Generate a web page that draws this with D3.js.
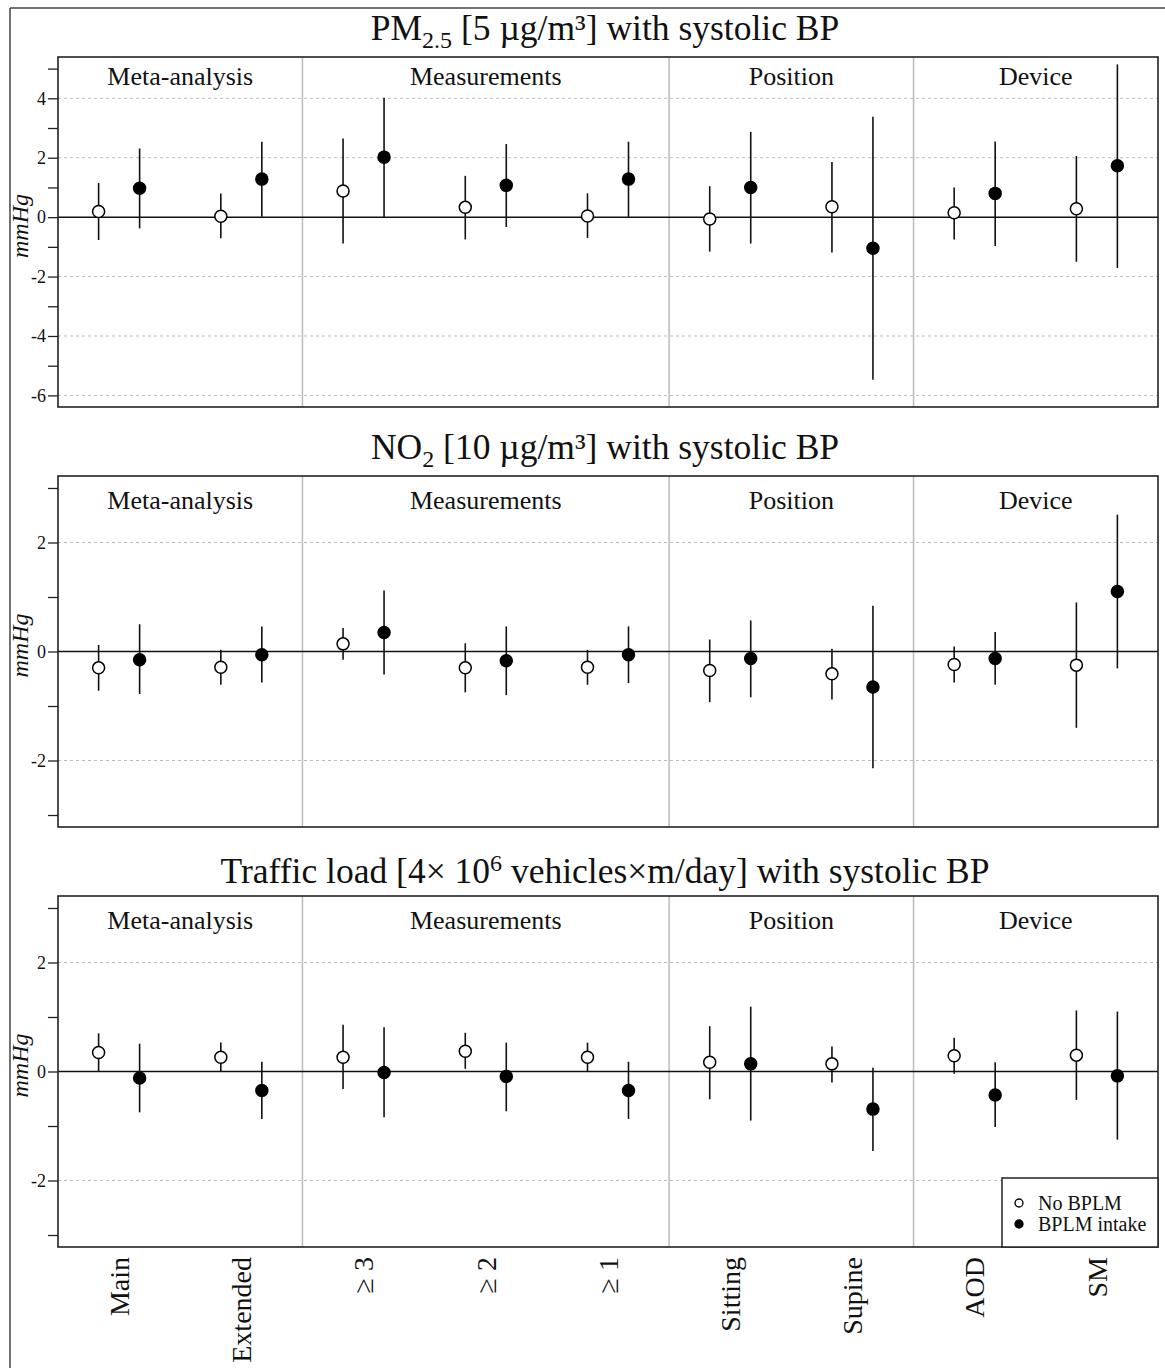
<!DOCTYPE html>
<html>
<head>
<meta charset="utf-8">
<script src="https://cdn.jsdelivr.net/npm/d3@7/dist/d3.min.js"></script>
<style>
  html, body { margin: 0; padding: 0; background: #fff; }
  svg { display: block; font-family: "Liberation Serif", "Times New Roman", serif; }
  svg text { font-family: "Liberation Serif", "Times New Roman", serif; }
</style>
</head>
<body>
<div id="chart"></div>
<script>
// ---------- DATA ----------
const categories = ["Main", "Extended", "\u2265 3", "\u2265 2", "\u2265 1", "Sitting", "Supine", "AOD", "SM"];
const groupNames = ["Meta-analysis", "Measurements", "Position", "Device"];
const groupSizes = [2, 3, 2, 2];
const seriesNames = ["No BPLM", "BPLM intake"];

// each entry: [estimate, lower CI, upper CI]
const pm25NoBPLM = [[0.19,-0.77,1.15],[0.03,-0.71,0.80],[0.88,-0.89,2.65],[0.33,-0.75,1.39],[0.04,-0.70,0.80],[-0.06,-1.16,1.04],[0.35,-1.19,1.86],[0.15,-0.75,1.00],[0.28,-1.50,2.06]];
const pm25BPLM   = [[0.97,-0.38,2.31],[1.28,0.01,2.54],[2.02,0.00,4.02],[1.07,-0.33,2.46],[1.28,0.01,2.54],[1.00,-0.89,2.87],[-1.05,-5.47,3.38],[0.80,-0.97,2.55],[1.73,-1.71,5.14]];

const no2NoBPLM = [[-0.30,-0.72,0.12],[-0.29,-0.61,0.03],[0.14,-0.15,0.43],[-0.30,-0.75,0.15],[-0.29,-0.61,0.03],[-0.35,-0.93,0.22],[-0.41,-0.88,0.05],[-0.24,-0.57,0.09],[-0.25,-1.40,0.90]];
const no2BPLM   = [[-0.15,-0.78,0.50],[-0.06,-0.57,0.46],[0.35,-0.42,1.12],[-0.17,-0.80,0.46],[-0.06,-0.58,0.46],[-0.13,-0.84,0.57],[-0.65,-2.14,0.84],[-0.13,-0.61,0.36],[1.10,-0.31,2.51]];

const trafficNoBPLM = [[0.35,0.00,0.70],[0.26,0.00,0.53],[0.26,-0.32,0.86],[0.37,0.05,0.71],[0.26,-0.01,0.53],[0.17,-0.51,0.83],[0.14,-0.20,0.46],[0.29,-0.04,0.62],[0.30,-0.52,1.12]];
const trafficBPLM   = [[-0.12,-0.75,0.51],[-0.35,-0.87,0.18],[-0.02,-0.84,0.81],[-0.09,-0.73,0.53],[-0.35,-0.87,0.18],[0.14,-0.90,1.19],[-0.69,-1.46,0.07],[-0.43,-1.02,0.17],[-0.08,-1.25,1.10]];

const pm25Ticks = [-6,-5,-4,-3,-2,-1,0,1,2,3,4,5];
const pm25Labels = ["-6","-4","-2","0","2","4"];
const smallTicks = [-3,-2,-1,0,1,2,3];
const smallLabels = ["-2","0","2"];

// ---------- LAYOUT ----------
const W = 1165, H = 1368;
const left = 58, right = 1158;

const panels = [
  { title: [{t:"PM"},{t:"2.5", sub:true},{t:" [5 \u00b5g/m\u00b3] with systolic BP"}], titleY: 40,
    top: 57, bottom: 407, domain: [-6.39, 5.39], ticks: pm25Ticks, labels: pm25Labels,
    no: pm25NoBPLM, yes: pm25BPLM, groupDy: 28 },
  { title: [{t:"NO"},{t:"2", sub:true},{t:" [10 \u00b5g/m\u00b3] with systolic BP"}], titleY: 459,
    top: 476, bottom: 827, domain: [-3.22, 3.22], ticks: smallTicks, labels: smallLabels,
    no: no2NoBPLM, yes: no2BPLM, groupDy: 33 },
  { title: [{t:"Traffic load [4\u00d7 10"},{t:"6", sup:true},{t:" vehicles\u00d7m/day] with systolic BP"}], titleY: 883,
    top: 896, bottom: 1247, domain: [-3.22, 3.22], ticks: smallTicks, labels: smallLabels,
    no: trafficNoBPLM, yes: trafficBPLM, groupDy: 33, legend: true, xLabels: true }
];

const svg = d3.select("#chart").append("svg").attr("width", W).attr("height", H);

// outer frame
svg.append("line").attr("x1", 10).attr("x2", W).attr("y1", 8).attr("y2", 8).attr("stroke", "#444").attr("stroke-width", 1.5);
svg.append("line").attr("x1", 10).attr("x2", 10).attr("y1", 8).attr("y2", H).attr("stroke", "#444").attr("stroke-width", 1.5);

const x = d3.scaleBand().domain(categories).range([left, right]);
const bw = x.bandwidth();
const sub = d3.scaleBand().domain(seriesNames).range([bw/2 - 41, bw/2 + 41]);

// group boundaries
const groupBounds = [];
let acc = 0;
groupSizes.forEach((s, i) => {
  const a = acc, b = acc + s;
  groupBounds.push({ name: groupNames[i], x0: x(categories[a]), x1: x(categories[b-1]) + bw });
  acc = b;
});

panels.forEach(p => {
  const y = d3.scaleLinear().domain(p.domain).range([p.bottom, p.top]);
  const g = svg.append("g");

  // title
  const tt = g.append("text").attr("x", (left + right) / 2 - 3).attr("y", p.titleY)
    .attr("text-anchor", "middle").style("font-size", "35.5px").attr("fill", "#111");
  let shift = 0;
  p.title.forEach(part => {
    const ts = tt.append("tspan").text(part.t);
    if (part.sub) { ts.style("font-size", "24px").attr("dy", 8 - shift); shift = 8; }
    else if (part.sup) { ts.style("font-size", "24px").attr("dy", -12 - shift); shift = -12; }
    else if (shift !== 0) { ts.attr("dy", -shift); shift = 0; }
  });

  // grid (dotted) at labeled values except 0
  g.selectAll(".grid").data(p.labels.map(Number).filter(v => v !== 0)).enter().append("line")
    .attr("x1", left).attr("x2", right).attr("y1", d => y(d)).attr("y2", d => y(d))
    .attr("stroke", "#bdbdbd").attr("stroke-width", 1).attr("stroke-dasharray", "3,3");

  // group separators
  g.selectAll(".sep").data(groupBounds.slice(1)).enter().append("line")
    .attr("x1", d => d.x0).attr("x2", d => d.x0).attr("y1", p.top).attr("y2", p.bottom)
    .attr("stroke", "#bbbbbb").attr("stroke-width", 1.5);

  // zero line
  g.append("line").attr("x1", left).attr("x2", right).attr("y1", y(0)).attr("y2", y(0))
    .attr("stroke", "#111").attr("stroke-width", 1.5);

  // group labels
  g.selectAll(".glab").data(groupBounds).enter().append("text")
    .attr("x", d => (d.x0 + d.x1) / 2).attr("y", p.top + p.groupDy)
    .attr("text-anchor", "middle").style("font-size", "26px").attr("fill", "#111")
    .text(d => d.name);

  // y axis
  const axis = d3.axisLeft(y).tickValues(p.ticks).tickSize(10).tickPadding(2)
    .tickFormat(d => p.labels.includes(String(d)) ? String(d) : "");
  const ag = g.append("g").attr("transform", `translate(${left},0)`).call(axis);
  ag.attr("font-family", null).attr("font-size", null);
  ag.select(".domain").remove();
  ag.selectAll(".tick line").attr("stroke", "#222").attr("stroke-width", 1.3);
  ag.selectAll(".tick text").style("font-size", "18px").attr("fill", "#111");

  // y title
  g.append("text").attr("transform", `translate(28,${(p.top + p.bottom) / 2 - 6}) rotate(-90)`)
    .attr("text-anchor", "middle").style("font-size", "24px").attr("font-style", "italic")
    .attr("fill", "#111").text("mmHg");

  // error bars + points
  const drawSeries = (data, name, filled) => {
    const cx = (d, i) => x(categories[i]) + sub(name) + sub.bandwidth() / 2;
    g.selectAll(null).data(data).enter().append("line")
      .attr("x1", cx).attr("x2", cx)
      .attr("y1", d => y(d[1])).attr("y2", d => y(d[2]))
      .attr("stroke", "#111").attr("stroke-width", 1.6);
    g.selectAll(null).data(data).enter().append("circle")
      .attr("cx", cx).attr("cy", d => y(d[0])).attr("r", 6)
      .attr("fill", filled ? "#000" : "#fff").attr("stroke", "#000").attr("stroke-width", 1.5);
  };
  drawSeries(p.no, seriesNames[0], false);
  drawSeries(p.yes, seriesNames[1], true);

  // panel border
  g.append("rect").attr("x", left).attr("y", p.top).attr("width", right - left).attr("height", p.bottom - p.top)
    .attr("fill", "none").attr("stroke", "#222").attr("stroke-width", 1.6);

  if (p.legend) {
    const lx = 1002, ly = 1178;
    const lg = g.append("g");
    lg.append("rect").attr("x", lx).attr("y", ly).attr("width", right - lx).attr("height", p.bottom - ly)
      .attr("fill", "#fff").attr("stroke", "#222").attr("stroke-width", 1.5);
    seriesNames.forEach((s, i) => {
      lg.append("circle").attr("cx", lx + 17).attr("cy", ly + 25 + i * 21).attr("r", 4)
        .attr("fill", i ? "#000" : "#fff").attr("stroke", "#000").attr("stroke-width", 1.3);
      lg.append("text").attr("x", lx + 36).attr("y", ly + 25 + i * 21).attr("dy", "0.35em")
        .style("font-size", "20px").attr("fill", "#111").text(s);
    });
  }

  if (p.xLabels) {
    g.selectAll(".xl").data(categories).enter().append("text")
      .attr("transform", d => `translate(${x(d) + bw / 2},${p.bottom + 10}) rotate(-90)`)
      .attr("text-anchor", "end").attr("dy", "0.35em")
      .style("font-size", "28px").attr("fill", "#111").text(d => d);
  }
});
</script>
</body>
</html>
